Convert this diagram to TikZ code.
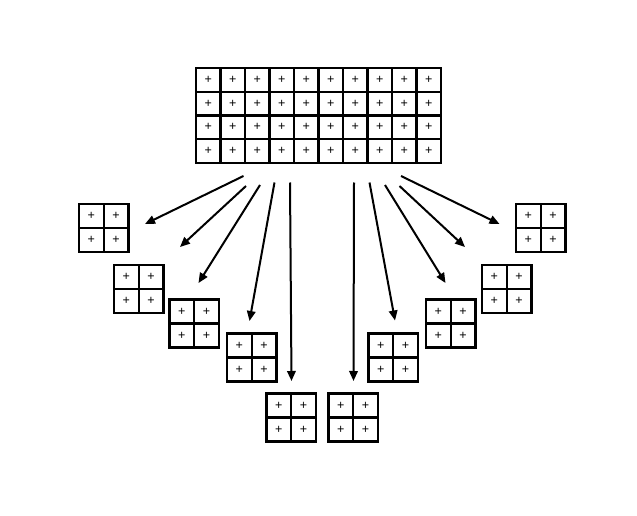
\documentclass[tikz,border=0pt]{standalone}
\usepackage{fontspec}
\setmainfont{Liberation Sans}
\usetikzlibrary{arrows.meta}
\begin{document}
\begin{tikzpicture}[x=1pt,y=-1pt,
  cellbox/.style={draw,line width=2.2pt,inner sep=0pt,outer sep=0pt,font=\fontsize{12.5}{12.5}\selectfont},
  bigcell/.style={cellbox,minimum width=24.5pt,minimum height=23.75pt},
  smallcell/.style={cellbox,minimum width=24.75pt,minimum height=24pt},
  arr/.style={line width=2pt,-{Triangle[length=10pt,width=8.5pt]}}]
\useasboundingbox (0,0) rectangle (637,516);
% top grid
\foreach \c in {0,...,9}
  \foreach \r in {0,...,3}
    \node[bigcell] (T-\c-\r) at ({196+24.5*(\c+0.5)},{68+23.75*(\r+0.5)}) {+};
% small grids
\foreach \n/\x/\y in {A/79/204,B/114/265,C/169.5/299.5,D/227/333.5,E/266.5/393.5,
                      F/328.5/393.5,G/516/204,H/482/265,I/426/299.5,J/368.5/333.5}
  \foreach \c in {0,1}
    \foreach \r in {0,1}
      \node[smallcell] (\n-\c-\r) at ({\x+24.75*(\c+0.5)},{\y+24*(\r+0.5)}) {+};
% arrow ends
\coordinate (s1) at (243.5,176);  \coordinate (e1) at (145,224);
\coordinate (s2) at (246,186);    \coordinate (e2) at (180,247);
\coordinate (s3) at (260,185);    \coordinate (e3) at (198.5,283);
\coordinate (s4) at (274.5,182.5);\coordinate (e4) at (249.5,321);
\coordinate (s5) at (290,182.5);  \coordinate (e5) at (291.5,381);
\coordinate (s6) at (354,182.5);  \coordinate (e6) at (353.5,381);
\coordinate (s7) at (369.5,182.5);\coordinate (e7) at (395,320.5);
\coordinate (s8) at (385,185);    \coordinate (e8) at (445.5,283);
\coordinate (s9) at (399.5,186);  \coordinate (e9) at (465,247);
\coordinate (s10) at (401,176);   \coordinate (e10) at (499.5,224);
\foreach \i in {1,...,10}
  \draw[arr] (s\i) -- (e\i);
\end{tikzpicture}
\end{document}
